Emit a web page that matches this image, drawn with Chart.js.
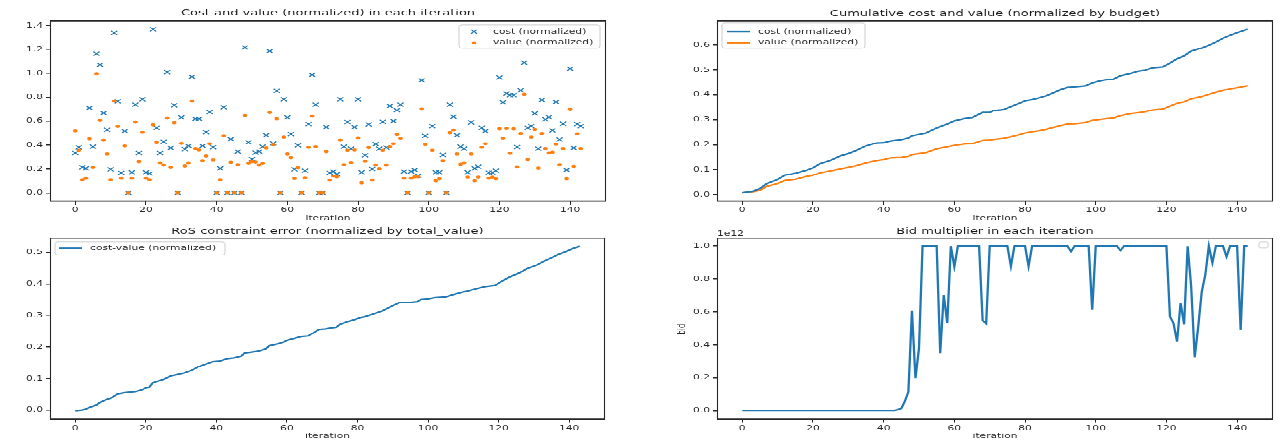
<!DOCTYPE html>
<html>
<head>
<meta charset="utf-8">
<script src="https://cdn.jsdelivr.net/npm/chart.js@4.4.1/dist/chart.umd.min.js"></script>
<style>
  html, body { margin: 0; padding: 0; background: #fff; overflow: hidden; width: 1280px; height: 446px; }
  /* the figure is drawn tall and squeezed vertically into the 446px window */
  #stage { position: absolute; left: 0; top: 0; width: 1280px; height: 676px; transform-origin: 0 0; transform: scaleY(0.659763); }
  #stage canvas { position: absolute; left: 0; top: 0; }
</style>
</head>
<body>
<div id="stage">
  <canvas id="cScatter" width="1280" height="676"></canvas>
  <canvas id="cCum" width="1280" height="676"></canvas>
  <canvas id="cRos" width="1280" height="676"></canvas>
  <canvas id="cBid" width="1280" height="676"></canvas>
</div>
<script>
// ---------------- data ----------------
const iterations = Array.from({ length: 144 }, (_, i) => i);

const costNorm = [
  0.333, 0.380, 0.214, 0.206, 0.711, 0.386, 1.164, 1.072, 0.667, 0.528,
  0.197, 1.339, 0.767, 0.167, 0.517, 0.000, 0.172, 0.739, 0.333, 0.783,
  0.172, 0.161, 1.369, 0.544, 0.333, 0.428, 1.011, 0.375, 0.733, 0.000,
  0.631, 0.364, 0.392, 0.972, 0.619, 0.619, 0.392, 0.508, 0.675, 0.381,
  0.000, 0.206, 0.717, 0.000, 0.450, 0.000, 0.344, 0.000, 1.217, 0.422,
  0.281, 0.336, 0.344, 0.386, 0.483, 1.186, 0.414, 0.853, 0.000, 0.783,
  0.631, 0.492, 0.197, 0.397, 0.000, 0.186, 0.575, 0.989, 0.739, 0.000,
  0.000, 0.550, 0.167, 0.178, 0.156, 0.783, 0.386, 0.592, 0.369, 0.550,
  0.783, 0.172, 0.314, 0.572, 0.200, 0.408, 0.369, 0.594, 0.378, 0.728,
  0.600, 0.692, 0.739, 0.178, 0.000, 0.178, 0.192, 0.142, 0.942, 0.478,
  0.000, 0.558, 0.172, 0.172, 0.317, 0.000, 0.739, 0.636, 0.483, 0.386,
  0.369, 0.172, 0.589, 0.206, 0.219, 0.544, 0.517, 0.169, 0.169, 0.186,
  0.967, 0.758, 0.831, 0.817, 0.817, 0.383, 0.858, 1.089, 0.544, 0.558,
  0.664, 0.369, 0.778, 0.614, 0.633, 0.522, 0.761, 0.447, 0.578, 0.192,
  1.039, 0.375, 0.575, 0.558
];

const valueNorm = [
  0.519, 0.356, 0.108, 0.122, 0.453, 0.214, 0.997, 0.606, 0.442, 0.325,
  0.108, 0.769, 0.556, 0.122, 0.392, 0.000, 0.122, 0.592, 0.261, 0.508,
  0.122, 0.108, 0.569, 0.422, 0.250, 0.233, 0.625, 0.214, 0.586, 0.000,
  0.414, 0.225, 0.250, 0.769, 0.369, 0.358, 0.269, 0.308, 0.411, 0.275,
  0.000, 0.108, 0.478, 0.000, 0.256, 0.000, 0.236, 0.000, 0.647, 0.247,
  0.261, 0.258, 0.233, 0.247, 0.375, 0.672, 0.403, 0.619, 0.000, 0.467,
  0.325, 0.294, 0.119, 0.211, 0.000, 0.125, 0.381, 0.642, 0.386, 0.000,
  0.000, 0.344, 0.106, 0.139, 0.133, 0.442, 0.236, 0.356, 0.253, 0.358,
  0.461, 0.083, 0.264, 0.378, 0.106, 0.233, 0.203, 0.356, 0.233, 0.386,
  0.411, 0.489, 0.456, 0.122, 0.000, 0.122, 0.133, 0.133, 0.703, 0.406,
  0.000, 0.356, 0.100, 0.117, 0.269, 0.000, 0.503, 0.525, 0.325, 0.239,
  0.250, 0.131, 0.325, 0.100, 0.131, 0.381, 0.411, 0.122, 0.131, 0.117,
  0.536, 0.456, 0.539, 0.331, 0.536, 0.217, 0.497, 0.825, 0.278, 0.467,
  0.531, 0.208, 0.497, 0.369, 0.333, 0.339, 0.408, 0.236, 0.369, 0.117,
  0.700, 0.222, 0.494, 0.369
];

// cumulative cost / value (normalized by budget), sampled along the run
const cumIter = [0, 3, 5, 7, 10, 12, 15, 18, 20, 22, 25, 28, 30, 32, 35, 38, 40, 42, 45, 47, 48, 52, 55, 58, 60, 63, 65, 68, 70, 71, 74, 76, 78, 80, 82, 84, 86, 88, 90, 92, 94, 97, 99, 101, 103, 105, 107, 110, 112, 114, 116, 119, 121, 123, 125, 127, 130, 132, 134, 136, 138, 140, 143];
const cumCost = [0.007, 0.013, 0.024, 0.044, 0.060, 0.077, 0.085, 0.097, 0.107, 0.124, 0.137, 0.156, 0.164, 0.175, 0.195, 0.207, 0.208, 0.215, 0.220, 0.227, 0.236, 0.247, 0.267, 0.283, 0.295, 0.305, 0.308, 0.329, 0.329, 0.336, 0.341, 0.353, 0.364, 0.376, 0.381, 0.388, 0.396, 0.408, 0.420, 0.429, 0.431, 0.435, 0.447, 0.455, 0.460, 0.463, 0.477, 0.487, 0.495, 0.499, 0.508, 0.512, 0.527, 0.544, 0.556, 0.575, 0.588, 0.599, 0.612, 0.627, 0.639, 0.649, 0.663];
const cumValue = [0.007, 0.011, 0.017, 0.033, 0.044, 0.056, 0.061, 0.072, 0.077, 0.087, 0.095, 0.104, 0.109, 0.115, 0.127, 0.136, 0.140, 0.147, 0.149, 0.153, 0.160, 0.168, 0.183, 0.191, 0.197, 0.203, 0.204, 0.217, 0.219, 0.221, 0.226, 0.232, 0.239, 0.247, 0.252, 0.256, 0.262, 0.269, 0.276, 0.283, 0.284, 0.288, 0.297, 0.300, 0.304, 0.307, 0.316, 0.325, 0.328, 0.332, 0.339, 0.343, 0.355, 0.366, 0.372, 0.384, 0.393, 0.402, 0.410, 0.418, 0.423, 0.428, 0.436];

// RoS constraint error (normalized by total value)
const rosIter = [0, 2, 3, 4, 6, 7, 9, 10, 12, 14, 17, 19, 20, 21, 22, 25, 27, 29, 31, 33, 35, 37, 39, 41, 43, 45, 47, 48, 50, 52, 54, 55, 57, 59, 60, 62, 64, 66, 68, 69, 71, 72, 74, 75, 77, 79, 81, 82, 84, 87, 89, 90, 92, 95, 97, 98, 100, 102, 105, 107, 110, 111, 113, 116, 119, 121, 123, 126, 128, 131, 133, 135, 137, 139, 141, 143];
const rosError = [-0.002, 0.000, 0.003, 0.008, 0.016, 0.024, 0.034, 0.037, 0.052, 0.056, 0.059, 0.065, 0.071, 0.073, 0.087, 0.097, 0.108, 0.113, 0.118, 0.126, 0.138, 0.146, 0.154, 0.156, 0.163, 0.166, 0.171, 0.181, 0.184, 0.187, 0.194, 0.204, 0.209, 0.215, 0.221, 0.227, 0.233, 0.235, 0.248, 0.256, 0.258, 0.260, 0.263, 0.272, 0.280, 0.286, 0.294, 0.296, 0.303, 0.314, 0.325, 0.331, 0.341, 0.342, 0.344, 0.351, 0.353, 0.357, 0.359, 0.366, 0.375, 0.377, 0.383, 0.391, 0.395, 0.409, 0.421, 0.435, 0.449, 0.461, 0.473, 0.483, 0.494, 0.502, 0.512, 0.519];

// bid multiplier per iteration, in units of 1e12
const bidMultiplier = [
  0.002, 0.002, 0.002, 0.002, 0.002, 0.002, 0.002, 0.002, 0.002, 0.002,
  0.002, 0.002, 0.002, 0.002, 0.002, 0.002, 0.002, 0.002, 0.002, 0.002,
  0.002, 0.002, 0.002, 0.002, 0.002, 0.002, 0.002, 0.002, 0.002, 0.002,
  0.002, 0.002, 0.002, 0.002, 0.002, 0.002, 0.002, 0.002, 0.002, 0.002,
  0.002, 0.002, 0.002, 0.002, 0.006, 0.014, 0.057, 0.117, 0.609, 0.198,
  0.381, 1.000, 1.000, 1.000, 1.000, 1.000, 0.350, 0.704, 0.532, 1.000,
  0.877, 1.000, 1.000, 1.000, 1.000, 1.000, 1.000, 1.000, 0.549, 0.530,
  1.000, 1.000, 1.000, 1.000, 1.000, 1.000, 0.879, 1.000, 1.000, 1.000,
  1.000, 0.879, 1.000, 1.000, 1.000, 1.000, 1.000, 1.000, 1.000, 1.000,
  1.000, 1.000, 1.000, 0.968, 1.000, 1.000, 1.000, 1.000, 1.000, 0.613,
  1.000, 1.000, 1.000, 1.000, 1.000, 1.000, 1.000, 0.974, 1.000, 1.000,
  1.000, 1.000, 1.000, 1.000, 1.000, 1.000, 1.000, 1.000, 1.000, 1.000,
  1.000, 0.573, 0.532, 0.421, 0.654, 0.526, 1.000, 0.755, 0.326, 0.512,
  0.725, 0.826, 1.000, 0.900, 1.000, 1.000, 1.000, 0.937, 1.000, 1.000,
  1.000, 0.492, 1.000, 1.000
];

const xTickValues = [0, 20, 40, 60, 80, 100, 120, 140];
const scatterYTicks = [0, 0.2, 0.4, 0.6, 0.8, 1.0, 1.2, 1.4];
const cumYTicks = [0, 0.1, 0.2, 0.3, 0.4, 0.5, 0.6];
const rosYTicks = [0, 0.1, 0.2, 0.3, 0.4, 0.5];
const bidYTicks = [0, 0.2, 0.4, 0.6, 0.8, 1.0];

// ---------------- drawing helpers ----------------
const BLUE = '#1f77b4';
const ORANGE = '#ff7f0e';
const INK = '#262626';
const FONT = 'DejaVu Sans';
const TICK_PX = 10.7;
const TITLE_PX = 13;
const CANVAS_H = 676;
const SY = 446 / 676;            // vertical squeeze applied to the stage
const ly = y => y / SY;          // window y -> canvas y
const Y_W = 44, X_H = 30;        // fixed axis box sizes

Chart.defaults.font.family = FONT;
Chart.defaults.color = INK;

const pairs = (xs, ys) => xs.map((x, i) => ({ x, y: ys[i] }));

function roundRect(ctx, x, y, w, h, r) {
  ctx.beginPath();
  ctx.moveTo(x + r, y);
  ctx.arcTo(x + w, y, x + w, y + h, r);
  ctx.arcTo(x + w, y + h, x, y + h, r);
  ctx.arcTo(x, y + h, x, y, r);
  ctx.arcTo(x, y, x + w, y, r);
  ctx.closePath();
}

function axes(yMin, yMax, yTicks) {
  return {
    x: {
      type: 'linear', min: -7.15, max: 150.15,
      afterBuildTicks: s => { s.ticks = xTickValues.map(v => ({ value: v })); },
      afterFit: s => { s.height = X_H; },
      ticks: { font: { size: TICK_PX }, color: INK, padding: 2, maxRotation: 0, callback: v => String(v) },
      grid: { drawOnChartArea: false, drawTicks: true, tickLength: 5.5, color: INK, lineWidth: 1 },
      border: { display: false }
    },
    y: {
      type: 'linear', min: yMin, max: yMax,
      afterBuildTicks: s => { s.ticks = yTicks.map(v => ({ value: v })); },
      afterFit: s => { s.width = Y_W; },
      ticks: { font: { size: TICK_PX }, color: INK, padding: 3, callback: v => Number(v).toFixed(1) },
      grid: { drawOnChartArea: false, drawTicks: true, tickLength: 4, color: INK, lineWidth: 1.5 },
      border: { display: false }
    }
  };
}

function layoutFor(a) {
  return { padding: { left: a.left - Y_W, right: 1280 - a.right, top: ly(a.top), bottom: CANVAS_H - ly(a.bottom) - X_H } };
}

function decor(spec) {
  return {
    id: 'decor',
    afterDraw(chart) {
      const ctx = chart.ctx;
      const a = chart.chartArea;
      ctx.save();
      // frame
      ctx.strokeStyle = INK;
      ctx.lineWidth = 1.6;
      ctx.beginPath();
      ctx.moveTo(a.left, a.top); ctx.lineTo(a.right, a.top);
      ctx.moveTo(a.left, a.bottom); ctx.lineTo(a.right, a.bottom);
      ctx.stroke();
      ctx.lineWidth = 1.1;
      ctx.beginPath();
      ctx.moveTo(a.left + 0.5, a.top); ctx.lineTo(a.left + 0.5, a.bottom);
      ctx.moveTo(a.right - 0.5, a.top); ctx.lineTo(a.right - 0.5, a.bottom);
      ctx.stroke();

      // title
      ctx.fillStyle = '#1a1a1a';
      ctx.textAlign = 'center';
      ctx.textBaseline = 'middle';
      ctx.font = `${TITLE_PX}px "${FONT}"`;
      ctx.fillText(spec.title, (a.left + a.right) / 2, ly(spec.titleY));

      // x label
      ctx.fillStyle = INK;
      ctx.font = `${TICK_PX}px "${FONT}"`;
      ctx.fillText('iteration', (a.left + a.right) / 2, ly(spec.xlabelY));

      // y label
      if (spec.ylabel) {
        ctx.save();
        ctx.translate(spec.ylabel.x, ly(spec.ylabel.y));
        ctx.rotate(-Math.PI / 2);
        ctx.fillText(spec.ylabel.text, 0, 0);
        ctx.restore();
      }
      // offset text of the y axis
      if (spec.offset) {
        ctx.textAlign = 'left';
        ctx.fillText(spec.offset.text, spec.offset.x, ly(spec.offset.y));
      }

      // legend
      if (spec.legend) {
        const L = spec.legend;
        const [x0, y0, x1, y1] = L.box;
        roundRect(ctx, x0, ly(y0), x1 - x0, ly(y1) - ly(y0), 3);
        ctx.fillStyle = 'rgba(255,255,255,0.8)';
        ctx.fill();
        ctx.strokeStyle = '#cccccc';
        ctx.lineWidth = 1;
        ctx.stroke();
        ctx.textAlign = 'left';
        ctx.textBaseline = 'middle';
        ctx.font = `${TICK_PX}px "${FONT}"`;
        L.items.forEach(it => {
          const y = ly(it.y);
          if (it.kind === 'line') {
            ctx.strokeStyle = it.color;
            ctx.lineWidth = 2.4;
            ctx.beginPath();
            ctx.moveTo(L.handle[0], y); ctx.lineTo(L.handle[1], y);
            ctx.stroke();
          } else if (it.kind === 'x') {
            const r = 3, cx = L.handle[0];
            ctx.strokeStyle = it.color;
            ctx.lineWidth = 1.3;
            ctx.beginPath();
            ctx.moveTo(cx - r, y - r); ctx.lineTo(cx + r, y + r);
            ctx.moveTo(cx - r, y + r); ctx.lineTo(cx + r, y - r);
            ctx.stroke();
          } else if (it.kind === 'dot') {
            ctx.fillStyle = it.color;
            ctx.beginPath();
            ctx.arc(L.handle[0], y, 2.3, 0, Math.PI * 2);
            ctx.fill();
          }
          ctx.fillStyle = INK;
          ctx.fillText(it.label, L.textX, y);
        });
      }
      if (spec.emptyLegend) {
        const [x0, y0, x1, y1] = spec.emptyLegend;
        roundRect(ctx, x0, ly(y0), x1 - x0, ly(y1) - ly(y0), 2);
        ctx.strokeStyle = '#cccccc';
        ctx.lineWidth = 1;
        ctx.stroke();
      }
      ctx.restore();
    }
  };
}

const common = { responsive: false, devicePixelRatio: 1, animation: false, events: [],
  plugins: { legend: { display: false }, tooltip: { enabled: false }, title: { display: false } } };

// ---------------- cost and value per iteration ----------------
const areaScatter = { left: 50, right: 606, top: 21, bottom: 201 };
new Chart(document.getElementById('cScatter'), {
  type: 'scatter',
  data: {
    datasets: [
      { label: 'value (normalized)', data: pairs(iterations, valueNorm), pointStyle: 'circle', pointRadius: 2.4,
        backgroundColor: ORANGE, borderWidth: 0 },
      { label: 'cost (normalized)', data: pairs(iterations, costNorm), pointStyle: 'crossRot', pointRadius: 4.3,
        borderColor: BLUE, backgroundColor: BLUE, borderWidth: 1.35 }
    ]
  },
  options: { ...common, layout: layoutFor(areaScatter), scales: axes(-0.0685, 1.4385, scatterYTicks) },
  plugins: [decor({
    title: 'Cost and value (normalized) in each iteration', titleY: 13, xlabelY: 218.5,
    legend: { box: [459, 25, 600, 48], handle: [474], textX: 493,
      items: [{ kind: 'x', color: BLUE, label: 'cost (normalized)', y: 31.7 },
              { kind: 'dot', color: ORANGE, label: 'value (normalized)', y: 42.7 }] }
  })]
});

// ---------------- cumulative cost and value ----------------
const areaCum = { left: 717, right: 1273, top: 21, bottom: 201 };
new Chart(document.getElementById('cCum'), {
  type: 'line',
  data: {
    datasets: [
      { label: 'cost (normalized)', data: pairs(cumIter, cumCost), borderColor: BLUE, borderWidth: 2.3, pointRadius: 0, tension: 0 },
      { label: 'value (normalized)', data: pairs(cumIter, cumValue), borderColor: ORANGE, borderWidth: 2.3, pointRadius: 0, tension: 0 }
    ]
  },
  options: { ...common, layout: layoutFor(areaCum), scales: axes(-0.026, 0.696, cumYTicks) },
  plugins: [decor({
    title: 'Cumulative cost and value (normalized by budget)', titleY: 13.5, xlabelY: 218.5,
    legend: { box: [722, 23, 865, 48], handle: [727, 750], textX: 758,
      items: [{ kind: 'line', color: BLUE, label: 'cost (normalized)', y: 31.7 },
              { kind: 'line', color: ORANGE, label: 'value (normalized)', y: 42.7 }] }
  })]
});

// ---------------- RoS constraint error ----------------
const areaRos = { left: 50, right: 605, top: 238, bottom: 419 };
new Chart(document.getElementById('cRos'), {
  type: 'line',
  data: {
    datasets: [
      { label: 'cost-value (normalized)', data: pairs(rosIter, rosError), borderColor: BLUE, borderWidth: 2.3, pointRadius: 0, tension: 0 }
    ]
  },
  options: { ...common, layout: layoutFor(areaRos), scales: axes(-0.028, 0.5455, rosYTicks) },
  plugins: [decor({
    title: 'RoS constraint error (normalized by total_value)', titleY: 231, xlabelY: 436.5,
    legend: { box: [55, 242, 225, 255], handle: [59, 82], textX: 90,
      items: [{ kind: 'line', color: BLUE, label: 'cost-value (normalized)', y: 248.3 }] }
  })]
});

// ---------------- bid multiplier ----------------
const areaBid = { left: 717, right: 1273, top: 238, bottom: 419 };
new Chart(document.getElementById('cBid'), {
  type: 'line',
  data: {
    datasets: [
      { label: 'bid', data: pairs(iterations, bidMultiplier), borderColor: BLUE, borderWidth: 2.3, pointRadius: 0, tension: 0 }
    ]
  },
  options: { ...common, layout: layoutFor(areaBid), scales: axes(-0.05, 1.05, bidYTicks) },
  plugins: [decor({
    title: 'Bid multiplier in each iteration', titleY: 231, xlabelY: 436.5,
    ylabel: { text: 'bid', x: 682, y: 329 },
    offset: { text: '1e12', x: 717, y: 233.5 },
    emptyLegend: [1259, 242, 1268, 248]
  })]
});
</script>
</body>
</html>
